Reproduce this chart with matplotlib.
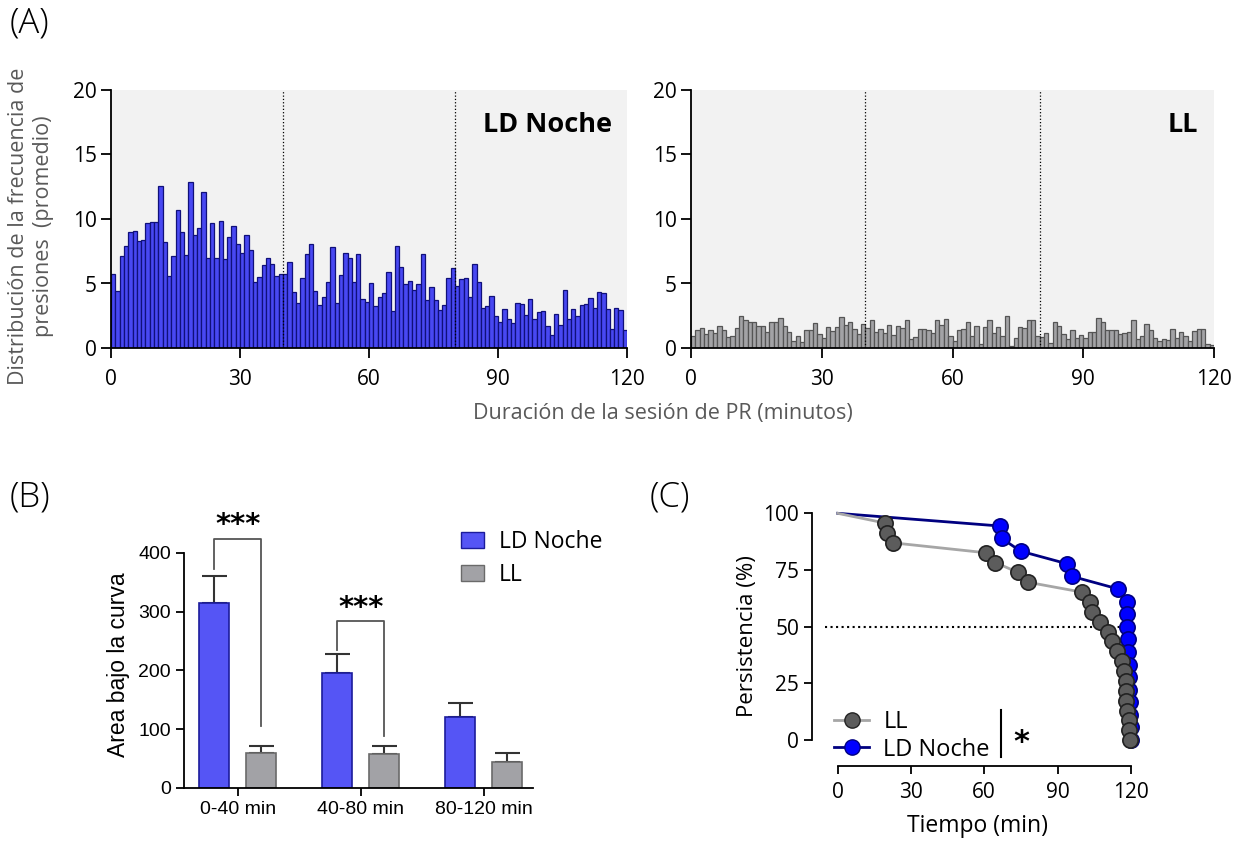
import numpy as np
import matplotlib
matplotlib.use('Agg')
import matplotlib.pyplot as plt
from matplotlib.lines import Line2D
from matplotlib.patches import Patch

plt.rcParams['font.family'] = ['Open Sans', 'DejaVu Sans']

# (A) frecuencia de presiones por minuto
minutos = np.arange(120)
ld_noche = [5.71, 4.44, 7.16, 7.93, 8.97, 9.04, 8.32, 8.40, 9.66, 9.79, 9.74, 12.53, 8.22, 5.61, 7.11,
            10.70, 8.97, 7.21, 12.89, 8.76, 9.28, 12.09, 6.95, 9.66, 7.00, 9.87, 6.90, 8.58, 9.46, 8.06,
            7.34, 8.73, 7.57, 5.12, 5.50, 6.46, 6.95, 6.49, 5.56, 5.74, 5.74, 6.67, 4.37, 3.46, 5.40,
            7.26, 8.06, 4.42, 3.31, 3.93, 5.09, 7.83, 3.51, 5.63, 7.39, 7.00, 5.09, 7.29, 3.82, 3.59,
            5.01, 3.26, 3.95, 4.24, 5.92, 2.87, 7.88, 6.31, 4.93, 5.22, 4.47, 4.96, 7.31, 3.70, 4.70,
            3.75, 2.92, 3.31, 5.45, 6.23, 4.78, 5.32, 5.45, 3.95, 6.49, 5.12, 3.07, 3.28, 4.06, 2.51,
            1.99, 3.00, 2.27, 1.91, 3.51, 3.41, 2.53, 3.82, 2.25, 2.76, 2.84, 1.73, 1.01, 2.64, 1.76,
            4.47, 2.25, 3.00, 2.45, 3.31, 3.44, 3.85, 3.07, 4.31, 4.26, 3.00, 1.47, 3.13, 2.97, 1.42]
ll = [0.93, 1.37, 1.58, 1.09, 1.42, 1.19, 1.71, 1.42, 0.85, 0.96, 1.58, 2.51, 2.17, 2.02, 2.02,
      1.73, 1.73, 1.27, 2.02, 1.99, 2.35, 1.73, 1.27, 0.57, 0.96, 0.49, 1.42, 1.42, 1.96, 1.06,
      0.80, 1.63, 1.32, 1.63, 2.43, 1.78, 1.99, 1.50, 1.09, 1.86, 1.52, 2.14, 1.27, 1.45, 1.19,
      1.78, 0.98, 1.71, 1.58, 2.14, 0.67, 0.83, 1.47, 1.50, 1.37, 1.19, 2.17, 1.78, 2.27, 0.90,
      0.54, 1.37, 1.47, 1.99, 0.90, 1.73, 0.34, 1.60, 2.20, 1.19, 1.60, 0.93, 2.48, 0.13, 0.80,
      1.65, 1.52, 2.14, 2.14, 0.93, 0.85, 1.19, 0.36, 2.02, 1.73, 1.06, 0.70, 1.37, 0.75, 1.01,
      0.80, 1.22, 1.27, 2.30, 2.02, 1.37, 1.37, 1.37, 1.06, 1.16, 1.27, 2.14, 0.67, 0.93, 1.89,
      1.40, 0.80, 0.54, 0.70, 0.65, 1.45, 0.75, 1.27, 0.93, 0.52, 1.29, 1.50, 1.45, 0.34, 0.23]

# (B) area bajo la curva
bloques = ['0-40 min', '40-80 min', '80-120 min']
auc_ld = [315, 196, 121]
sem_ld = [45, 32, 24]
auc_ll = [60, 57, 45]
sem_ll = [12, 14, 14]

# (C) persistencia
t_ll = [0, 19.4, 20.3, 22.5, 60.7, 64.5, 73.9, 77.9, 100.2, 103.2, 104.3, 107.3, 110.5, 112.5,
        114.4, 116.5, 117.1, 118.0, 118.2, 118.2, 118.6, 119.2, 119.3, 119.6]
p_ll = [100, 95.7, 91.3, 87.0, 82.6, 78.3, 73.9, 69.6, 65.2, 60.9, 56.5, 52.2, 47.8, 43.5,
        39.1, 34.8, 30.4, 26.1, 21.7, 17.4, 13.0, 8.7, 4.3, 0]
t_ld = [0, 66.4, 67.2, 74.9, 93.7, 95.9, 114.6, 118.5, 118.5, 118.5, 118.8, 118.9, 119.1,
        119.3, 119.3, 119.5, 119.6, 119.9, 120]
p_ld = [100, 94.4, 88.9, 83.3, 77.8, 72.2, 66.7, 61.1, 55.6, 50.0, 44.4, 38.9, 33.3,
        27.8, 22.2, 16.7, 11.1, 5.6, 0]

W, H = 1242, 844
fig = plt.figure(figsize=(W / 100, H / 100), dpi=100)

def box(x0, y0, x1, y1):
    return [x0 / W, 1 - y1 / H, (x1 - x0) / W, (y1 - y0) / H]

gris = '#595959'

# ---- panel A
axL = fig.add_axes(box(111, 90, 627, 348))
axR = fig.add_axes(box(691, 90, 1214, 348))
for ax, vals, fc, ec, nombre in [(axL, ld_noche, '#4848F2', '#10107a', 'LD Noche'),
                                  (axR, ll, '#a3a3a6', '#555555', 'LL')]:
    ax.set_facecolor('#f2f2f2')
    ax.bar(minutos, vals, width=1, align='edge', color=fc, edgecolor=ec, linewidth=0.9)
    ax.axvline(40, color='k', ls=':', lw=0.9)
    ax.axvline(80, color='k', ls=':', lw=0.9)
    ax.set_xlim(0, 120)
    ax.set_ylim(0, 20)
    ax.set_xticks([0, 30, 60, 90, 120])
    ax.set_yticks([0, 5, 10, 15, 20])
    ax.spines['top'].set_visible(False)
    ax.spines['right'].set_visible(False)
    ax.spines['left'].set_linewidth(1.3)
    ax.spines['bottom'].set_linewidth(1.3)
    ax.tick_params(labelsize=15, width=1.3, length=7)
    ax.tick_params(axis='x', pad=8)
    ax.tick_params(axis='y', pad=3)
    ax.text(0.97, 0.864, nombre, transform=ax.transAxes, ha='right', va='center',
            fontsize=19.5, fontweight='bold')

fig.text(31 / W, 1 - 226 / H, 'Distribución de la frecuencia de\npresiones  (promedio)',
         rotation=90, ha='center', va='center', fontsize=15.5, color=gris, linespacing=1.2,
         multialignment='center')
fig.text(663 / W, 1 - 414 / H, 'Duración de la sesión de PR (minutos)', ha='center',
         va='center', fontsize=15.5, color=gris)
fig.text(10 / W, 1 - 23 / H, '(A)', fontsize=25, va='center', fontweight='light')
fig.text(10 / W, 1 - 497 / H, '(B)', fontsize=25, va='center', fontweight='light')
fig.text(650 / W, 1 - 497 / H, '(C)', fontsize=25, va='center', fontweight='light')

# ---- panel B
axB = fig.add_axes(box(184, 500, 533, 788))
pos = np.arange(len(bloques))
off = 0.19
wb = 0.245
axB.bar(pos - off, auc_ld, width=wb, color='#5555f5', edgecolor='#1c1c9c', linewidth=1.2, zorder=2)
axB.bar(pos + off, auc_ll, width=wb, color='#a2a2a6', edgecolor='#6a6a6a', linewidth=1.2, zorder=2)
axB.errorbar(pos - off, auc_ld, yerr=[np.zeros(3), sem_ld], fmt='none', ecolor='#333333',
             elinewidth=1.5, capsize=9, capthick=1.5, zorder=1)
axB.errorbar(pos + off, auc_ll, yerr=[np.zeros(3), sem_ll], fmt='none', ecolor='#333333',
             elinewidth=1.5, capsize=9, capthick=1.5, zorder=1)
axB.plot([-off, -off, off, off], [372, 424, 424, 105], color='#555555', lw=1.3)
axB.plot([1 - off, 1 - off, 1 + off, 1 + off], [234, 284, 284, 88], color='#555555', lw=1.3)
axB.text(0, 448, '***', ha='center', va='center', fontsize=21, fontweight='bold', family='DejaVu Sans')
axB.text(1, 307, '***', ha='center', va='center', fontsize=21, fontweight='bold', family='DejaVu Sans')
axB.set_xlim(-0.437, 2.4)
axB.set_ylim(0, 490)
axB.spines['top'].set_visible(False)
axB.spines['right'].set_visible(False)
axB.spines['left'].set_bounds(0, 400)
axB.spines['left'].set_linewidth(1.3)
axB.spines['bottom'].set_linewidth(1.3)
axB.set_yticks([0, 100, 200, 300, 400])
axB.set_xticks(pos)
axB.set_xticklabels(bloques)
axB.tick_params(width=1.3, length=6)
for lab in axB.get_xticklabels() + axB.get_yticklabels():
    lab.set_family('Liberation Sans')
    lab.set_fontsize(14)
axB.set_ylabel('Area bajo la curva', family='Liberation Sans', fontsize=16.5)
axB.yaxis.set_label_coords(-0.155, 0.427)
axB.legend(handles=[Patch(facecolor='#5555f5', edgecolor='#1c1c9c', label='LD Noche'),
                    Patch(facecolor='#a2a2a6', edgecolor='#6a6a6a', label='LL')],
           loc='upper left', bbox_to_anchor=(461 / W, 1 - 530 / H), bbox_transform=fig.transFigure,
           frameon=False, fontsize=16.5, handlelength=1.0, handleheight=0.7, handletextpad=0.65,
           labelspacing=0.4, borderpad=0, borderaxespad=0)

# ---- panel C
axC = fig.add_axes(box(812.3, 506.5, 1143, 765.7))
axC.plot([-5, 118], [50, 50], color='k', ls=':', lw=1.5)
axC.plot(t_ld, p_ld, color='#000080', lw=2, zorder=2)
axC.plot(t_ld[1:], p_ld[1:], 'o', ms=11, mfc='#0000ff', mec='#000080', mew=1.2, zorder=3)
axC.plot(t_ll, p_ll, color='#a6a6a6', lw=2, zorder=4)
axC.plot(t_ll[1:], p_ll[1:], 'o', ms=11, mfc='#5c5c5c', mec='#222222', mew=1.2, zorder=5)
axC.set_xlim(-10.4, 125)
axC.set_ylim(-11.3, 103)
axC.spines['top'].set_visible(False)
axC.spines['right'].set_visible(False)
axC.spines['left'].set_bounds(0, 100)
axC.spines['bottom'].set_bounds(0, 120)
axC.spines['left'].set_linewidth(1.3)
axC.spines['bottom'].set_linewidth(1.3)
axC.set_xticks([0, 30, 60, 90, 120])
axC.set_yticks([0, 25, 50, 75, 100])
axC.tick_params(labelsize=15, width=1.3, length=6)
axC.tick_params(axis='x', pad=6)
axC.set_xlabel('Tiempo (min)', fontsize=16.5, labelpad=8)
axC.set_ylabel('Persistencia (%)', fontsize=16)
h_ll = Line2D([], [], color='#a6a6a6', lw=2, marker='o', ms=11, mfc='#5c5c5c', mec='#222222')
h_ld = Line2D([], [], color='#000080', lw=2, marker='o', ms=11, mfc='#0000ff', mec='#000080')
axC.legend([h_ll, h_ld], ['LL', 'LD Noche'], loc='upper left', bbox_to_anchor=(0.065, 0.215),
           frameon=False, fontsize=17, handlelength=1.5, handletextpad=0.6, labelspacing=0.15,
           borderpad=0, borderaxespad=0)
axC.plot([67, 67], [-7.4, 13.2], color='k', lw=1.5, clip_on=False)
axC.text(72, -1, '*', fontsize=22, fontweight='bold', ha='left', va='center', family='DejaVu Sans')

fig.savefig('out.png', dpi=100)
